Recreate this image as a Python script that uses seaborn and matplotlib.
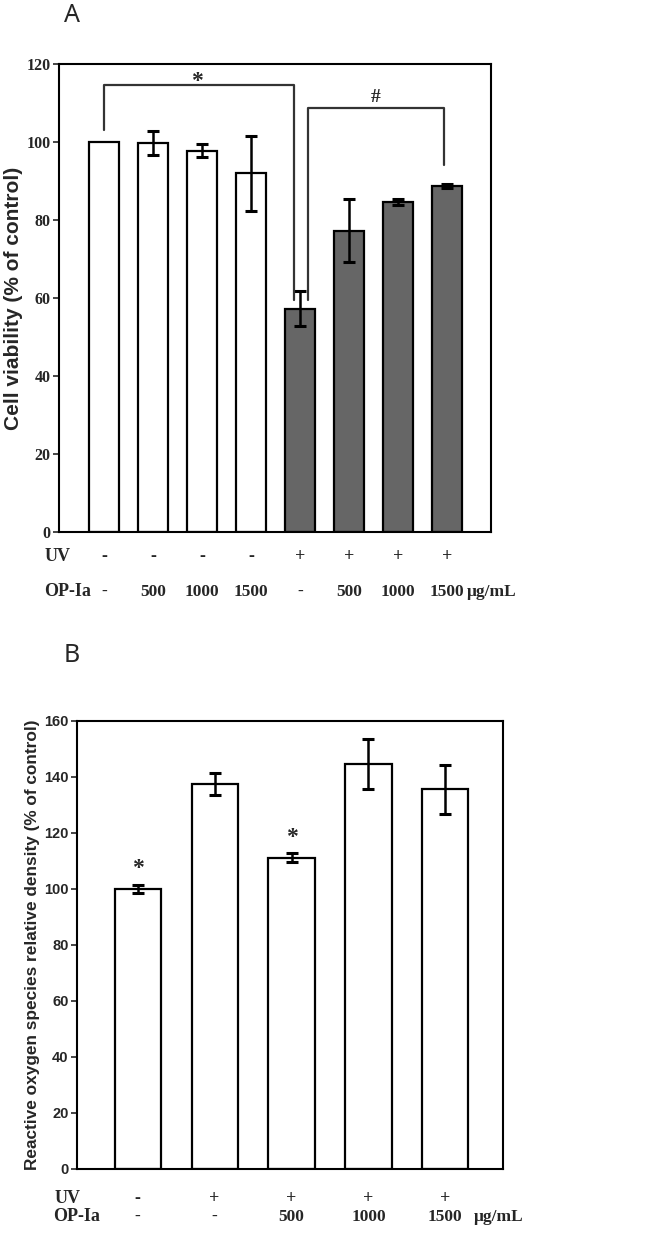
import numpy as np
import pandas as pd
import seaborn as sns
import matplotlib.pyplot as plt
import matplotlib.transforms as mtransforms

# ---- data ----
a_uv = ["-", "-", "-", "-", "+", "+", "+", "+"]
a_op = ["-", "500", "1000", "1500", "-", "500", "1000", "1500"]
a_mean = [100.0, 99.7, 97.8, 92.0, 57.3, 77.3, 84.7, 88.7]
a_err = [0.0, 3.0, 1.7, 9.6, 4.4, 8.0, 0.8, 0.6]
a_colors = ["white"] * 4 + ["#666666"] * 4

b_uv = ["-", "+", "+", "+", "+"]
b_op = ["-", "-", "500", "1000", "1500"]
b_mean = [100.0, 137.5, 111.2, 144.6, 135.6]
b_err = [1.5, 3.9, 1.5, 9.0, 8.7]
b_star = [True, False, True, False, False]

SERIF = ["Liberation Serif", "DejaVu Serif"]
SANS = ["Liberation Sans", "DejaVu Sans"]

sns.set_style("white")
plt.rcParams["font.family"] = SERIF
plt.rcParams["axes.linewidth"] = 1.5

fig = plt.figure(figsize=(6.62, 12.46), dpi=100)
axA = fig.add_axes([59 / 662, 1 - 532 / 1246, 432 / 662, 468 / 1246])
axB = fig.add_axes([77 / 662, 1 - 1169 / 1246, 426 / 662, 448 / 1246])


def draw_bars(ax, mean, err, colors, tick_font, tick_size):
    keys = [str(i) for i in range(len(mean))]
    df = pd.DataFrame({"key": keys, "val": mean, "err": err,
                       "pos": np.arange(len(mean))})
    sns.barplot(data=df, x="key", y="val", hue="key", palette=colors,
                legend=False, width=0.6, edgecolor="black", linewidth=1.6,
                ax=ax)
    e = df[df["err"] > 0]
    ax.errorbar(e["pos"], e["val"], yerr=e["err"], fmt="none",
                ecolor="black", elinewidth=1.8, capsize=4.5, capthick=2.2)
    ax.set_xticks([])
    ax.set_xlabel("")
    for s in ax.spines.values():
        s.set_visible(True)
        s.set_color("black")
        s.set_linewidth(1.5)
    ax.tick_params(axis="y", direction="out", length=4, width=1.2,
                   left=True, pad=2)
    for lab in ax.get_yticklabels():
        lab.set_fontfamily(tick_font)
        lab.set_fontweight("bold")
        lab.set_fontsize(tick_size)


def draw_table(ax, uv, op, y_uv, y_op, x_lab, unit_x):
    trans = mtransforms.blended_transform_factory(ax.transData, ax.transAxes)
    tf = mtransforms.blended_transform_factory(fig.transFigure, ax.transAxes)
    for i, (u, o) in enumerate(zip(uv, op)):
        ax.text(i, y_uv, u, transform=trans, ha="center", va="center",
                fontsize=13, fontweight="bold", clip_on=False)
        ax.text(i, y_op, o, transform=trans, ha="center", va="center",
                fontsize=12.5, fontweight="bold", clip_on=False)
    ax.text(x_lab, y_uv, "UV", transform=tf, ha="left", va="center",
            fontsize=13, fontweight="bold", clip_on=False)
    ax.text(x_lab - 0.002, y_op, "OP-Ia", transform=tf, ha="left",
            va="center", fontsize=13, fontweight="bold", clip_on=False)
    ax.text(unit_x, y_op, "μg/mL", transform=trans, ha="left",
            va="center", fontsize=12.5, fontweight="bold", clip_on=False)


# ---- panel A ----
draw_bars(axA, a_mean, a_err, a_colors, SERIF, 11.5)
axA.set_xlim(-0.92, 7.9)
axA.set_ylim(0, 120)
axA.set_yticks(np.arange(0, 121, 20))
axA.set_ylabel("Cell viability (% of control)", fontsize=15,
               fontweight="bold", family=SANS)
axA.yaxis.set_label_coords(-0.083, 0.5)
draw_table(axA, a_uv, a_op, -0.053, -0.128, 0.068, 7.4)

# significance brackets
xA = np.arange(len(a_mean))
axA.plot([xA[0], xA[0], xA[4] - 0.12, xA[4] - 0.12],
         [103, 114.6, 114.6, 59.5], color="#333333", lw=1.6)
axA.text((xA[0] + xA[4]) / 2 - 0.1, 115.6, "*", ha="center", va="center",
         fontsize=17, fontweight="bold")
axA.plot([xA[4] + 0.16, xA[4] + 0.16, xA[7] - 0.06, xA[7] - 0.06],
         [59.5, 108.7, 108.7, 94], color="#333333", lw=1.6)
axA.text((xA[4] + xA[7]) / 2 + 0.05, 111.3, "#", ha="center", va="center",
         fontsize=14, fontweight="bold")

# ---- panel B ----
draw_bars(axB, b_mean, b_err, ["white"] * len(b_mean), SANS, 10.5)
axB.set_xlim(-0.79, 4.75)
axB.set_ylim(0, 160)
axB.set_yticks(np.arange(0, 161, 20))
axB.set_ylabel("Reactive oxygen species relative density (% of control)",
               fontsize=12.4, fontweight="bold", family=SANS)
axB.yaxis.set_label_coords(-0.088, 0.5)
draw_table(axB, b_uv, b_op, -0.065, -0.107, 0.083, 4.37)
for i, flag in enumerate(b_star):
    if flag:
        axB.text(i, b_mean[i] + b_err[i] + 2, "*", ha="center",
                 va="bottom", fontsize=17, fontweight="bold")

# panel letters
fig.text(72 / 662, 1 - 16 / 1246, "A", ha="center", va="center",
         fontsize=18, family=["Noto Sans", "DejaVu Sans"])
fig.text(72 / 662, 1 - 656 / 1246, "B", ha="center", va="center",
         fontsize=18, family=["Noto Sans", "DejaVu Sans"])

fig.savefig("out.png", dpi=100, facecolor="white")
